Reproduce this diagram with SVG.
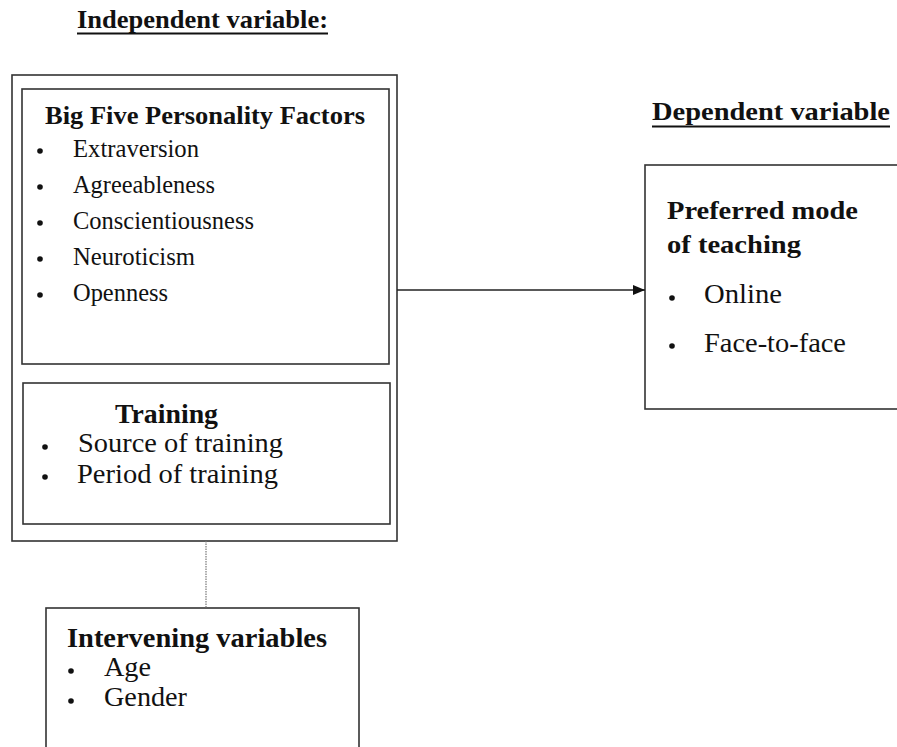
<svg xmlns="http://www.w3.org/2000/svg" width="897" height="747" viewBox="0 0 897 747">
<style>
.box{fill:none;stroke:#333;stroke-width:1.6}
.h{font-family:"Liberation Serif","Times New Roman",serif;font-weight:bold;fill:#111}
.t{font-family:"Liberation Serif","Times New Roman",serif;fill:#111}
.b{fill:#111}
</style>
<defs>
<marker id="ah" markerWidth="12" markerHeight="10" refX="12" refY="5" orient="auto" markerUnits="userSpaceOnUse">
<path d="M0,0 L12,5 L0,10 Z" fill="#111"/>
</marker>
</defs>
<rect width="897" height="747" fill="#fff"/>

<g id="independent-label">
<text class="h" x="77" y="28" font-size="25" textLength="251" lengthAdjust="spacingAndGlyphs">Independent variable:</text>
<line x1="77" y1="33.5" x2="328" y2="33.5" stroke="#111" stroke-width="1.8"/>
</g>

<g id="independent">
<rect class="box" x="12" y="75" width="385" height="466"/>
</g>

<g id="big-five">
<rect class="box" x="22" y="89" width="367" height="275"/>
<text class="h" x="45" y="124" font-size="25" textLength="320" lengthAdjust="spacingAndGlyphs">Big Five Personality Factors</text>
<circle class="b" cx="40" cy="151" r="2.8"/>
<text class="t" x="73" y="157" font-size="25" textLength="126" lengthAdjust="spacingAndGlyphs">Extraversion</text>
<circle class="b" cx="40" cy="187" r="2.8"/>
<text class="t" x="73" y="193" font-size="25" textLength="142" lengthAdjust="spacingAndGlyphs">Agreeableness</text>
<circle class="b" cx="40" cy="223" r="2.8"/>
<text class="t" x="73" y="229" font-size="25" textLength="181" lengthAdjust="spacingAndGlyphs">Conscientiousness</text>
<circle class="b" cx="40" cy="259" r="2.8"/>
<text class="t" x="73" y="265" font-size="25" textLength="122" lengthAdjust="spacingAndGlyphs">Neuroticism</text>
<circle class="b" cx="40" cy="295" r="2.8"/>
<text class="t" x="73" y="301" font-size="25" textLength="95" lengthAdjust="spacingAndGlyphs">Openness</text>
</g>

<g id="training">
<rect class="box" x="23" y="383" width="367" height="141"/>
<text class="h" x="115" y="423" font-size="27" textLength="103" lengthAdjust="spacingAndGlyphs">Training</text>
<circle class="b" cx="45" cy="447" r="2.8"/>
<text class="t" x="78" y="452" font-size="28" textLength="205" lengthAdjust="spacingAndGlyphs">Source of training</text>
<circle class="b" cx="45" cy="477" r="2.8"/>
<text class="t" x="77" y="483" font-size="28" textLength="201" lengthAdjust="spacingAndGlyphs">Period of training</text>
</g>

<g id="intervening">
<rect class="box" x="46" y="608" width="313" height="160"/>
<text class="h" x="67" y="647" font-size="27" textLength="260" lengthAdjust="spacingAndGlyphs">Intervening variables</text>
<circle class="b" cx="71" cy="671" r="2.8"/>
<text class="t" x="104" y="676" font-size="27" textLength="47" lengthAdjust="spacingAndGlyphs">Age</text>
<circle class="b" cx="71" cy="701" r="2.8"/>
<text class="t" x="104" y="706" font-size="27" textLength="83" lengthAdjust="spacingAndGlyphs">Gender</text>
</g>

<g id="dependent-label">
<text class="h" x="652" y="120" font-size="25" textLength="238" lengthAdjust="spacingAndGlyphs">Dependent variable</text>
<line x1="652" y1="126.5" x2="890" y2="126.5" stroke="#111" stroke-width="1.8"/>
</g>

<g id="dependent">
<rect class="box" x="645" y="165" width="270" height="244"/>
<text class="h" x="667" y="219" font-size="25" textLength="191" lengthAdjust="spacingAndGlyphs">Preferred mode</text>
<text class="h" x="667" y="253" font-size="25" textLength="134" lengthAdjust="spacingAndGlyphs">of teaching</text>
<circle class="b" cx="672" cy="298" r="2.8"/>
<text class="t" x="704" y="303" font-size="27" textLength="78" lengthAdjust="spacingAndGlyphs">Online</text>
<circle class="b" cx="672" cy="346" r="2.8"/>
<text class="t" x="704" y="352" font-size="27" textLength="142" lengthAdjust="spacingAndGlyphs">Face-to-face</text>
</g>

<g id="connectors">
<line x1="397" y1="290" x2="645" y2="290" stroke="#222" stroke-width="1.5" marker-end="url(#ah)"/>
<line x1="206" y1="541" x2="206" y2="608" stroke="#777" stroke-width="1.2" stroke-dasharray="1.5 1"/>
</g>
</svg>
